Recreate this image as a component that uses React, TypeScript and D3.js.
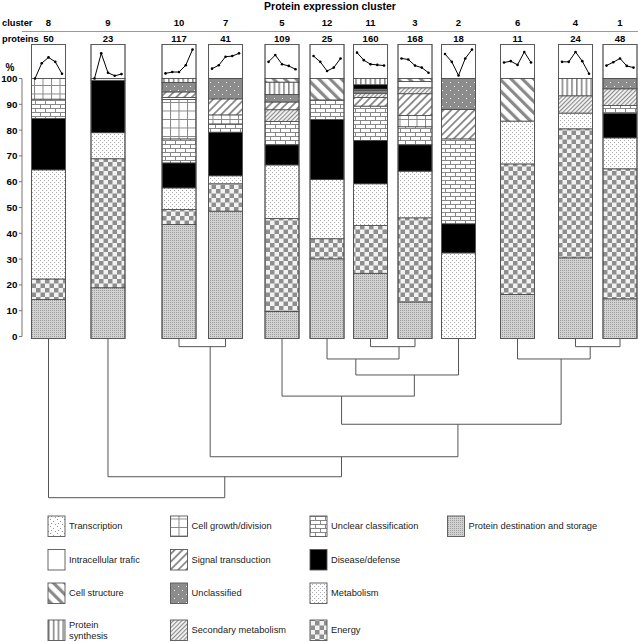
import React from "react";
import * as d3 from "d3";

// cluster order along the x axis and protein counts
const clusterIds = ["8", "9", "10", "7", "5", "12", "11", "3", "2", "6", "4", "1"];
const proteinCounts = [50, 23, 117, 41, 109, 25, 160, 168, 18, 11, 24, 48];
// column slot of each bar (bars are grouped, so spacing is not regular)
const columnSlot = [0, 1.343, 2.946, 3.996, 5.271, 6.287, 7.269, 8.273, 9.255, 10.587, 11.896, 12.9];

// functional categories, legend order (column by column)
const categoryKeys = [
  "transcription", "intracellular", "cellStruct", "protSynth",
  "growth", "signal", "unclassified", "secondary",
  "unclear", "disease", "metabolism", "energy",
  "protDest",
];
const categoryLabels = [
  "Transcription", "Intracellular trafic", "Cell structure", "Protein\nsynthesis",
  "Cell growth/division", "Signal transduction", "Unclassified", "Secondary metabolism",
  "Unclear classification", "Disease/defense", "Metabolism", "Energy",
  "Protein destination and storage",
];

// stacked segments, bottom -> top, % of proteins
const segments8 = [["protDest", 14.3], ["energy", 8.0], ["metabolism", 42.3], ["disease", 19.9], ["unclear", 7.5], ["growth", 8.0]];
const segments9 = [["protDest", 18.9], ["energy", 50.0], ["metabolism", 10.1], ["disease", 20.3], ["intracellular", 0.7]];
const segments10 = [["protDest", 43.4], ["energy", 5.8], ["metabolism", 8.4], ["disease", 9.7], ["unclear", 9.3], ["growth", 15.3], ["intracellular", 0.8], ["signal", 2.1], ["unclassified", 3.7], ["protSynth", 1.5]];
const segments7 = [["protDest", 48.6], ["energy", 10.6], ["metabolism", 3.1], ["disease", 16.9], ["unclear", 3.2], ["growth", 3.5], ["signal", 6.2], ["unclassified", 7.9]];
const segments5 = [["protDest", 9.7], ["energy", 36.0], ["metabolism", 20.8], ["disease", 7.8], ["unclear", 9.0], ["secondary", 4.6], ["signal", 3.0], ["unclassified", 2.9], ["protSynth", 4.8], ["cellStruct", 1.4]];
const segments12 = [["protDest", 30.1], ["energy", 7.8], ["metabolism", 23.0], ["disease", 23.2], ["unclear", 7.6], ["cellStruct", 8.3]];
const segments11 = [["protDest", 24.5], ["energy", 18.5], ["metabolism", 16.2], ["disease", 16.8], ["unclear", 13.3], ["signal", 3.3], ["secondary", 1.7], ["unclassified", 1.1], ["intracellular", 0.5], ["disease", 1.7], ["protSynth", 2.4]];
const segments3 = [["protDest", 13.4], ["energy", 32.6], ["metabolism", 18.1], ["disease", 10.2], ["unclear", 7.0], ["growth", 4.4], ["signal", 8.4], ["secondary", 2.3], ["intracellular", 2.4], ["cellStruct", 1.2]];
const segments2 = [["metabolism", 32.4], ["disease", 11.3], ["unclear", 32.9], ["signal", 11.4], ["unclassified", 12.0]];
const segments6 = [["protDest", 16.3], ["energy", 50.6], ["metabolism", 16.6], ["cellStruct", 16.5]];
const segments4 = [["protDest", 30.5], ["energy", 50.0], ["metabolism", 6.1], ["secondary", 6.7], ["protSynth", 6.7]];
const segments1 = [["protDest", 14.6], ["energy", 50.4], ["metabolism", 12.0], ["disease", 9.5], ["unclear", 3.0], ["secondary", 6.5], ["unclassified", 4.0]];
const clusterSegments = [segments8, segments9, segments10, segments7, segments5, segments12, segments11, segments3, segments2, segments6, segments4, segments1];

// expression profiles (relative level, 5 time points)
const profile8 = [0.0, 0.45, 0.62, 0.49, 0.14];
const profile9 = [0.0, 0.74, 0.17, 0.08, 0.13];
const profile10 = [0.15, 0.19, 0.19, 0.39, 0.85];
const profile7 = [0.29, 0.39, 0.64, 0.66, 0.74];
const profile5 = [0.49, 0.69, 0.42, 0.37, 0.27];
const profile12 = [0.66, 0.49, 0.22, 0.32, 0.59];
const profile11 = [0.76, 0.54, 0.42, 0.40, 0.38];
const profile3 = [0.59, 0.56, 0.38, 0.32, 0.17];
const profile2 = [0.72, 0.49, 0.09, 0.59, 0.85];
const profile6 = [0.47, 0.51, 0.40, 0.78, 0.47];
const profile4 = [0.49, 0.49, 0.78, 0.51, 0.14];
const profile1 = [0.38, 0.48, 0.59, 0.37, 0.32];
const clusterProfiles = [profile8, profile9, profile10, profile7, profile5, profile12, profile11, profile3, profile2, profile6, profile4, profile1];

// dendrogram: merges in order, children are cluster ids or "m<index>"
const mergeChildren = [["10", "7"], ["11", "3"], ["4", "1"], ["12", "m1"], ["6", "m2"], ["m3", "2"], ["5", "m5"], ["m6", "m4"], ["m0", "m7"], ["9", "m8"], ["8", "m9"]];
const mergeHeights = [5.1, 5.1, 5.1, 12.8, 12.8, 22.8, 36, 53.6, 73.9, 86.4, 99.5];
const mergeSplit = [0.67, 0.64, 0.33, 0.4, 0.6, 0.57, 0.45, 0.53, 0.53, 0.5, 0.5];

const yTicks = [0, 10, 20, 30, 40, 50, 60, 70, 80, 90, 100];

const FONT = "'Liberation Sans', Arial, Helvetica, sans-serif";
const LINE = "#555";

function Patterns() {
  return (
    <defs>
      <pattern id="p-protDest" width="2" height="2" patternUnits="userSpaceOnUse">
        <rect width="2" height="2" fill="#d2d2d2" />
        <rect width="1" height="1" fill="#9c9c9c" />
      </pattern>
      <pattern id="p-energy" width="9" height="9" patternUnits="userSpaceOnUse">
        <rect width="9" height="9" fill="#f2f2f2" />
        <rect width="4.5" height="4.5" fill="#8e8e8e" />
        <rect x="4.5" y="4.5" width="4.5" height="4.5" fill="#8e8e8e" />
      </pattern>
      <pattern id="p-metabolism" width="4" height="4" patternUnits="userSpaceOnUse">
        <rect width="4" height="4" fill="#fff" />
        <rect width="1" height="1" fill="#a8a8a8" />
        <rect x="2" y="2" width="1" height="1" fill="#a8a8a8" />
      </pattern>
      <pattern id="p-transcription" width="7" height="7" patternUnits="userSpaceOnUse">
        <rect width="7" height="7" fill="#fff" />
        <rect x="1" y="1" width="1" height="1" fill="#999" />
        <rect x="4" y="3" width="1" height="1" fill="#999" />
        <rect x="2" y="5" width="1" height="1" fill="#999" />
        <rect x="6" y="6" width="1" height="1" fill="#999" />
      </pattern>
      <pattern id="p-unclear" width="10" height="8" patternUnits="userSpaceOnUse">
        <rect width="10" height="8" fill="#fff" />
        <path d="M0,0.5H10M0,4.5H10M0.5,0.5V4.5M5.5,4.5V8" stroke="#888" strokeWidth="1" fill="none" />
      </pattern>
      <pattern id="p-growth" width="8.5" height="8.5" patternUnits="userSpaceOnUse">
        <rect width="8.5" height="8.5" fill="#fff" />
        <path d="M0,0.5H8.5M0.5,0V8.5" stroke="#888" strokeWidth="1" fill="none" />
      </pattern>
      <pattern id="p-intracellular" width="4" height="4" patternUnits="userSpaceOnUse">
        <rect width="4" height="4" fill="#fff" />
      </pattern>
      <pattern id="p-cellStruct" width="8" height="8" patternUnits="userSpaceOnUse" patternTransform="rotate(-45)">
        <rect width="8" height="8" fill="#fff" />
        <rect width="3.2" height="8" fill="#8a8a8a" />
      </pattern>
      <pattern id="p-signal" width="5.5" height="5.5" patternUnits="userSpaceOnUse" patternTransform="rotate(45)">
        <rect width="5.5" height="5.5" fill="#fff" />
        <rect width="1.8" height="5.5" fill="#8a8a8a" />
      </pattern>
      <pattern id="p-secondary" width="3" height="3" patternUnits="userSpaceOnUse" patternTransform="rotate(45)">
        <rect width="3" height="3" fill="#f4f4f4" />
        <rect width="1.1" height="3" fill="#8a8a8a" />
      </pattern>
      <pattern id="p-unclassified" width="8" height="8" patternUnits="userSpaceOnUse">
        <rect width="8" height="8" fill="#8c8c8c" />
        <rect x="2" y="2" width="1" height="1" fill="#eee" />
        <rect x="6" y="6" width="1" height="1" fill="#eee" />
      </pattern>
      <pattern id="p-protSynth" width="4.8" height="4" patternUnits="userSpaceOnUse">
        <rect width="4.8" height="4" fill="#fff" />
        <rect width="1.6" height="4" fill="#888" />
      </pattern>
      <pattern id="p-disease" width="4" height="4" patternUnits="userSpaceOnUse">
        <rect width="4" height="4" fill="#000" />
      </pattern>
    </defs>
  );
}

export default function App() {
  const width = 638, height = 642;
  const barW = 34;

  const x = d3.scaleLinear().domain([0, 12.9]).range([48.5, 620]);
  const y = d3.scaleLinear().domain([0, 100]).range([336.5, 78.5]);
  const yProfile = d3.scaleLinear().domain([0, 1]).range([78.5, 44.5]);
  const yDendro = d3.scaleLinear().domain([0, 100]).range([338.5, 498.5]);
  const barBottom = y(0) + 2;

  // dendrogram node positions
  const nodeX: Record<string, number> = {};
  const nodeY: Record<string, number> = {};
  clusterIds.forEach((id, i) => { nodeX[id] = x(columnSlot[i]); nodeY[id] = barBottom; });
  const dendroPaths: string[] = [];
  mergeChildren.forEach(([a, b], i) => {
    const my = yDendro(mergeHeights[i]);
    const ax = nodeX[a], bx = nodeX[b];
    const p = d3.path();
    p.moveTo(ax, nodeY[a]);
    p.lineTo(ax, my);
    p.lineTo(bx, my);
    p.lineTo(bx, nodeY[b]);
    dendroPaths.push(p.toString());
    nodeX["m" + i] = ax + mergeSplit[i] * (bx - ax);
    nodeY["m" + i] = my;
  });

  const legendColX = [48, 170.5, 310, 447.5];
  const legendRowY = [526, 559.5, 593, 630];

  return (
    <svg width={width} height={height} style={{ position: "absolute", left: 0, top: 0, background: "#fff" }}
      fontFamily={FONT}>
      <Patterns />
      <rect width={width} height={height} fill="#fff" />

      {/* header */}
      <text x={330} y={9.5} textAnchor="middle" fontSize={10.5} fontWeight="bold">Protein expression cluster</text>
      <text x={2} y={25.5} fontSize={9.3} fontWeight="bold">cluster</text>
      <text x={2} y={42} fontSize={9.3} fontWeight="bold">proteins</text>
      <line x1={22} x2={638} y1={31.5} y2={31.5} stroke="#999" strokeWidth={1} />
      {clusterIds.map((id, i) => (
        <g key={"h" + id} fontSize={9.5} fontWeight="bold" textAnchor="middle">
          <text x={x(columnSlot[i])} y={25.5}>{id}</text>
          <text x={x(columnSlot[i])} y={42}>{proteinCounts[i]}</text>
        </g>
      ))}

      {/* y axis */}
      <text x={10} y={71} textAnchor="middle" fontSize={10} fontWeight="bold">%</text>
      <line x1={22} x2={22} y1={y(100)} y2={y(0)} stroke="#777" />
      {yTicks.map((t) => (
        <g key={"t" + t}>
          <line x1={19} x2={22} y1={y(t)} y2={y(t)} stroke="#777" />
          <text x={17.5} y={y(t) + 3.5} textAnchor="end" fontSize={9.8} fontWeight="bold">{t}</text>
        </g>
      ))}

      {/* bars */}
      {clusterIds.map((id, i) => {
        const cx = x(columnSlot[i]);
        const left = cx - barW / 2;
        let acc = 0;
        const segs = clusterSegments[i].map(([key, v], j) => {
          const lo = acc;
          acc += v as number;
          const top = y(acc);
          const bottom = lo === 0 ? barBottom : y(lo);
          return (
            <rect key={j} x={left} y={top} width={barW} height={bottom - top}
              fill={`url(#p-${key})`} stroke="#444" strokeWidth={0.8} />
          );
        });
        const px = d3.scalePoint<number>().domain(d3.range(5)).range([left + 3.5, left + barW - 3.5]);
        const prof = clusterProfiles[i];
        const line = d3.line<number>().x((_, k) => px(k) as number).y((d) => yProfile(d));
        return (
          <g key={"b" + id}>
            <rect x={left} y={44.5} width={barW} height={y(100) - 44.5} fill="#fff" stroke="#888" strokeWidth={1} />
            {segs}
            <rect x={left} y={44.5} width={barW} height={barBottom - 44.5} fill="none" stroke={LINE} strokeWidth={0.9} />
            <path d={line(prof) || ""} fill="none" stroke="#000" strokeWidth={1} />
            {prof.map((d, k) => (
              <circle key={k} cx={px(k)} cy={yProfile(d)} r={1.3} fill="#000" />
            ))}
          </g>
        );
      })}

      {/* dendrogram */}
      {dendroPaths.map((d, i) => (
        <path key={"d" + i} d={d} fill="none" stroke={LINE} strokeWidth={1} />
      ))}

      {/* legend */}
      {categoryKeys.map((key, i) => {
        const col = Math.floor(i / 4), row = i % 4;
        const sx = legendColX[col];
        const cy = legendRowY[row];
        const lines = categoryLabels[i].split("\n");
        return (
          <g key={"l" + key}>
            <rect x={sx} y={cy - 10} width={17} height={20.5} fill={`url(#p-${key})`} stroke={LINE} strokeWidth={0.9} />
            <text x={sx + 21} y={cy + 3.3 - (lines.length - 1) * 5.5} fontSize={9.3} fill="#222">
              {lines.map((t, k) => (
                <tspan key={k} x={sx + 21} dy={k === 0 ? 0 : 11}>{t}</tspan>
              ))}
            </text>
          </g>
        );
      })}
    </svg>
  );
}
